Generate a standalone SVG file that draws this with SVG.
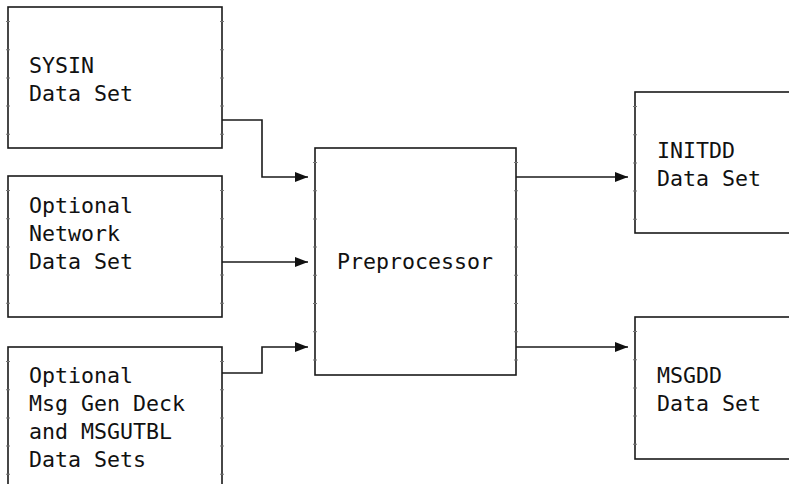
<svg xmlns="http://www.w3.org/2000/svg" width="789" height="484" viewBox="0 0 789 484">
<defs>
<style>
.box{fill:#fff;stroke:#1a1a1a;stroke-width:1.6}
.tick{stroke:#777;stroke-width:4;stroke-dasharray:1 27.2;fill:none}
.conn{fill:none;stroke:#1a1a1a;stroke-width:1.6}
text{font-family:"DejaVu Sans Mono","Liberation Mono",monospace;font-size:21.6px;fill:#111}
</style>
<marker id="ah" markerWidth="14" markerHeight="12" refX="13" refY="6" orient="auto" markerUnits="userSpaceOnUse">
<path d="M0,1 L13,6 L0,11 Z" fill="#111"/>
</marker>
</defs>
<rect width="789" height="484" fill="#fff"/>
<g id="sysin">
<rect class="box" x="8" y="7" width="214" height="141"/>
<line class="tick" x1="8" y1="21" x2="8" y2="148"/>
<line class="tick" x1="222" y1="21" x2="222" y2="148"/>
<text x="29" y="73">SYSIN</text>
<text x="29" y="101">Data Set</text>
</g>
<g id="network">
<rect class="box" x="8" y="176" width="214" height="141"/>
<line class="tick" x1="8" y1="190" x2="8" y2="317"/>
<line class="tick" x1="222" y1="190" x2="222" y2="317"/>
<text x="29" y="213">Optional</text>
<text x="29" y="241">Network</text>
<text x="29" y="269">Data Set</text>
</g>
<g id="msggen">
<rect class="box" x="8" y="347" width="214" height="160"/>
<line class="tick" x1="8" y1="361" x2="8" y2="484"/>
<line class="tick" x1="222" y1="361" x2="222" y2="484"/>
<text x="29" y="383">Optional</text>
<text x="29" y="411">Msg Gen Deck</text>
<text x="29" y="439">and MSGUTBL</text>
<text x="29" y="467">Data Sets</text>
</g>
<g id="preprocessor">
<rect class="box" x="315" y="148" width="201" height="227"/>
<line class="tick" x1="315" y1="162" x2="315" y2="375"/>
<line class="tick" x1="516" y1="162" x2="516" y2="375"/>
<text x="415" y="269" text-anchor="middle">Preprocessor</text>
</g>
<g id="initdd">
<rect class="box" x="635" y="92" width="170" height="141"/>
<line class="tick" x1="635" y1="106" x2="635" y2="233"/>
<text x="657" y="158">INITDD</text>
<text x="657" y="186">Data Set</text>
</g>
<g id="msgdd">
<rect class="box" x="635" y="317" width="170" height="142"/>
<line class="tick" x1="635" y1="331" x2="635" y2="459"/>
<text x="657" y="383">MSGDD</text>
<text x="657" y="411">Data Set</text>
</g>
<g id="connectors">
<polyline class="conn" points="222,120 262,120 262,177 308,177" marker-end="url(#ah)"/>
<polyline class="conn" points="222,262 308,262" marker-end="url(#ah)"/>
<polyline class="conn" points="222,373 262,373 262,347 308,347" marker-end="url(#ah)"/>
<polyline class="conn" points="516,177 628,177" marker-end="url(#ah)"/>
<polyline class="conn" points="516,347 628,347" marker-end="url(#ah)"/>
</g>
</svg>
